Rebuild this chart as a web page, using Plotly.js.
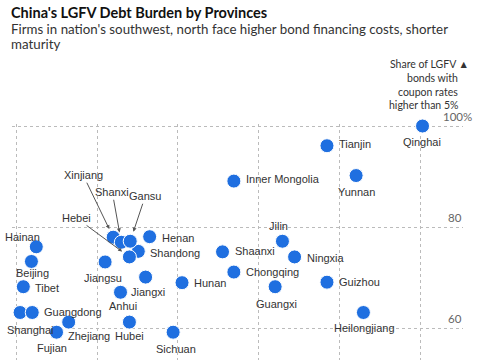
<!DOCTYPE html>
<html>
<head>
<meta charset="utf-8">
<script src="https://cdn.plot.ly/plotly-3.0.1.min.js"></script>
<style>
  html, body { margin: 0; padding: 0; background: #fff; }
  #chart { width: 485px; height: 360px; }
</style>
</head>
<body>
<div id="chart"></div>
<script>
// Provinces and their positions (x: unlabelled horizontal measure, y: share of LGFV bonds with coupon > 5%)
const provinces = ["Qinghai","Tianjin","Yunnan","Inner Mongolia","Jilin","Shaanxi","Ningxia","Chongqing","Guangxi","Guizhou","Heilongjiang","Hunan","Sichuan","Hainan","Beijing","Tibet","Shanghai","Guangdong","Zhejiang","Fujian","Hubei","Anhui","Jiangxi","Jiangsu","Henan","Shandong","Xinjiang","Shanxi","Gansu","Hebei"];
const xValues = [5.02,3.84,4.20,2.69,3.29,2.55,3.44,2.69,3.20,3.84,4.29,2.05,1.94,0.25,0.19,0.09,0.05,0.20,0.65,0.50,1.40,1.29,1.60,1.10,1.65,1.51,1.20,1.30,1.41,1.40];
const yValues = [100.0,96.1,90.2,89.1,77.2,75.1,74.1,71.1,68.2,69.1,63.1,69.0,59.2,76.1,73.2,68.2,63.1,63.1,61.2,59.2,61.2,67.1,70.1,73.1,78.1,75.2,78.0,77.0,77.2,74.1];
// Labels drawn with arrows
const arrowLabels = ["Xinjiang","Shanxi","Gansu","Hebei"];
const yTicks = [60, 80, 100];
const yTickText = ["60", "80", "100%"];
const yTitleLines = ["Share of LGFV \u25B2", "bonds with", "coupon rates", "higher than 5%"];
const title = "China's LGFV Debt Burden by Provinces";
const subtitleLines = ["Firms in nation's southwest, north face higher bond financing costs, shorter", "maturity"];

// ---- styles (label placement relative to each dot, in px) ----
// [xanchor, xshift, yshift]; yshift positive = down
const R = (dy) => ["left", 10, dy || 0];
const B = (dx, dy) => ["center", dx || 0, dy || 15];
const labelStyle = {
  Qinghai: B(-1, 16), Tianjin: R(-2), Yunnan: B(0, 16), "Inner Mongolia": R(-2), Jilin: B(-4, -15),
  Shaanxi: R(-1), Ningxia: R(1), Chongqing: R(0), Guangxi: B(1, 17), Guizhou: R(0),
  Heilongjiang: B(1, 15), Hunan: R(0), Sichuan: B(3, 17), Hainan: B(-14, -10), Beijing: B(1, 12),
  Tibet: R(1), Shanghai: B(10, 17), Guangdong: R(-1), Zhejiang: ["left", -3, 14], Fujian: B(-5, 16),
  Hubei: B(0, 14), Anhui: B(2, 14), Jiangxi: B(2, 15), Jiangsu: B(-2, 16), Henan: R(1), Shandong: R(2)
};
const arrowStyle = {
  Xinjiang: {ax: -30, ay: -62, standoff: 9},
  Shanxi: {ax: -9, ay: -50, standoff: 10},
  Gansu: {ax: 15, ay: -45, standoff: 10},
  Hebei: {ax: -53, ay: -39, standoff: 9}
};

const W = 485, H = 360, M = {l: 12, r: 22, t: 124, b: 0};
const pw = W - M.l - M.r, ph = H - M.t - M.b;
const px2x = (px) => (px - M.l) / pw;
const px2y = (py) => (H - M.b - py) / ph;

const blue = "#1f6fe0";
const labelFont = {family: "Liberation Sans, Arial, sans-serif", size: 11, color: "#333"};
const uiFont = "Lato, sans-serif";

const trace = {
  type: "scatter",
  mode: "markers",
  x: xValues,
  y: yValues,
  cliponaxis: false,
  marker: {size: 14, color: blue, line: {color: "#fff", width: 1}},
  hoverinfo: "text",
  hovertext: provinces
};

const annotations = [];
provinces.forEach((p, i) => {
  const s = labelStyle[p];
  if (!s) return;
  annotations.push({
    x: xValues[i], y: yValues[i], xref: "x", yref: "y",
    text: p, showarrow: false, xanchor: s[0], yanchor: "middle",
    xshift: s[1], yshift: -s[2], font: labelFont
  });
});
arrowLabels.forEach(name => {
  const i = provinces.indexOf(name);
  const s = arrowStyle[name];
  annotations.push({
    x: xValues[i], y: yValues[i], xref: "x", yref: "y",
    text: name, showarrow: true, arrowhead: 2, arrowsize: 0.8, arrowwidth: 1,
    arrowcolor: "#555", ax: s.ax, ay: s.ay, standoff: s.standoff,
    font: labelFont
  });
});
yTicks.forEach((v, i) => {
  const t = yTickText[i];
  annotations.push({
    x: 1, xref: "paper", y: v, yref: "y",
    text: t, showarrow: false, xanchor: "right", yanchor: "middle",
    xshift: t.indexOf("%") >= 0 ? 11 : 1, yshift: 10,
    font: {family: uiFont, size: 11.5, color: "#666"}
  });
});
// y-axis title, line by line (tight leading)
const yTitleY = [64.5, 78, 91.5, 105];
yTitleLines.forEach((t, i) => {
  annotations.push({
    x: px2x(i === 0 ? 470 : 459), xref: "paper", y: px2y(yTitleY[i]), yref: "paper",
    text: t, showarrow: false, xanchor: "right", yanchor: "middle", borderpad: 0,
    font: {family: uiFont, size: 10.5, color: "#333"}
  });
});
// title and subtitle
annotations.push({
  x: px2x(9), xref: "paper", y: px2y(13), yref: "paper",
  text: "<b>" + title + "</b>", showarrow: false, xanchor: "left", yanchor: "middle",
  font: {family: uiFont, size: 14.5, color: "#111"}
});
const subY = [29, 44];
subtitleLines.forEach((t, i) => {
  annotations.push({
    x: px2x(9), xref: "paper", y: px2y(subY[i]), yref: "paper",
    text: t, showarrow: false, xanchor: "left", yanchor: "middle",
    font: {family: uiFont, size: 13.3, color: "#333"}
  });
});

const layout = {
  width: W, height: H,
  margin: {l: M.l, r: M.r, t: M.t, b: M.b, pad: 0},
  paper_bgcolor: "#fff", plot_bgcolor: "#fff",
  showlegend: false,
  xaxis: {
    range: [-0.05, 5.52], dtick: 1, tick0: 0, showgrid: true, gridcolor: "#bbb", griddash: "dot", gridwidth: 1,
    zeroline: false, showline: false, showticklabels: false, ticks: "", fixedrange: true
  },
  yaxis: {
    range: [53.7, 100.4], tickvals: yTicks, showgrid: true, gridcolor: "#bbb", griddash: "dot", gridwidth: 1,
    zeroline: false, showline: false, showticklabels: false, ticks: "", fixedrange: true
  },
  annotations: annotations
};

Plotly.newPlot("chart", [trace], layout, {displayModeBar: false, staticPlot: true});
</script>
</body>
</html>
